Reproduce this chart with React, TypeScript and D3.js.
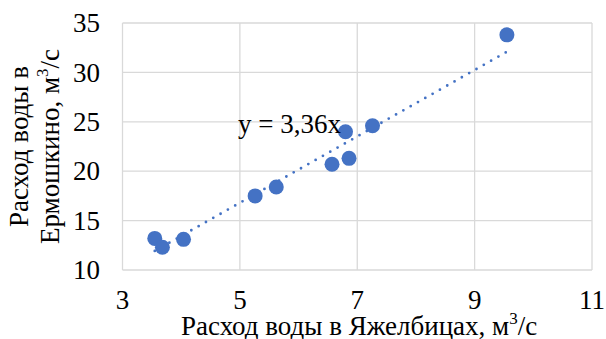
import React from "react";
import * as d3 from "d3";

// Расход воды: Яжелбицы (x) и Ермошкино (y), м3/с
const flowYazh = [3.55, 3.68, 4.04, 5.26, 5.62, 6.57, 6.86, 6.8, 7.26, 9.55];
const flowErm = [13.2, 12.3, 13.1, 17.5, 18.4, 20.7, 21.3, 24.0, 24.6, 33.8];
const xTicks = [3, 5, 7, 9, 11];
const yTicks = [10, 15, 20, 25, 30, 35];
const slope = 3.36;

const blue = "#4472C4";
const grid = "#D9D9D9";
const font = "Liberation Serif";

export default function App() {
  const width = 606;
  const height = 339;
  const left = 122.5;
  const right = 592;
  const top = 23;
  const bottom = 270;
  const fs = 27;

  const x = d3.scaleLinear().domain([3, 11]).range([left, right]);
  const y = d3.scaleLinear().domain([10, 35]).range([bottom, top]);

  const xMin = d3.min(flowYazh) as number;
  const xMax = d3.max(flowYazh) as number;
  const trend = d3
    .line<number>()
    .x(d => x(d))
    .y(d => y(slope * d));

  const txt = { fontFamily: font, fontSize: fs, fill: "#000" };

  return (
    <svg width={width} height={height} style={{ position: "absolute", left: 0, top: 0 }}>
      <rect width={width} height={height} fill="#fff" />
      <g stroke={grid} strokeWidth={1.3}>
        {xTicks.map(t => (
          <line key={"gx" + t} x1={x(t)} x2={x(t)} y1={top} y2={bottom} />
        ))}
        {yTicks.map(t => (
          <line key={"gy" + t} x1={left} x2={right} y1={y(t)} y2={y(t)} />
        ))}
      </g>
      {yTicks.map(t => (
        <text key={"ty" + t} x={100} y={y(t)} dy="0.34em" textAnchor="end" style={txt}>
          {t}
        </text>
      ))}
      {xTicks.map(t => (
        <text key={"tx" + t} x={x(t)} y={309} textAnchor="middle" style={txt}>
          {t}
        </text>
      ))}
      <path
        d={trend([xMin, xMax]) || ""}
        fill="none"
        stroke={blue}
        strokeWidth={2.8}
        strokeLinecap="round"
        strokeDasharray="0 8.4"
      />
      <g fill={blue}>
        {flowYazh.map((v, i) => (
          <circle key={i} cx={x(v)} cy={y(flowErm[i])} r={7.5} />
        ))}
      </g>
      <text x={238} y={133} style={txt}>
        y = 3,36x
      </text>
      <text x={181} y={335} style={txt}>
        Расход воды в Яжелбицах, м<tspan dy={-11} style={{ fontSize: 17 }}>3</tspan>
        <tspan dy={11}>/с</tspan>
      </text>
      <g transform={`translate(0,${(top + bottom) / 2}) rotate(-90)`}>
        <text x={0} y={28} textAnchor="middle" style={txt}>
          Расход воды в
        </text>
        <text x={0} y={59} textAnchor="middle" style={txt}>
          Ермошкино, м<tspan dy={-11} style={{ fontSize: 17 }}>3</tspan>
          <tspan dy={11}>/с</tspan>
        </text>
      </g>
    </svg>
  );
}
